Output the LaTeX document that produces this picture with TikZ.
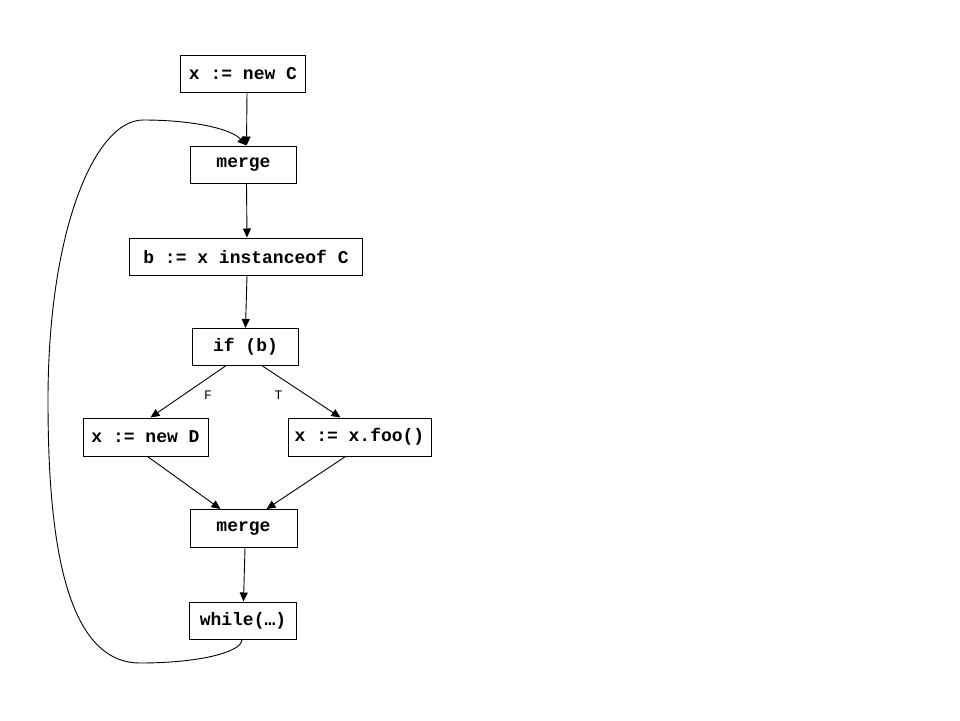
\documentclass[tikz,border=0pt]{standalone}
\usepackage{fontspec}
\setmonofont{Liberation Mono}
\usetikzlibrary{arrows.meta}
\begin{document}
\begin{tikzpicture}[x=1pt,y=-1pt,
    stmt/.style={draw,line width=1pt,minimum height=37pt,inner sep=0pt,font=\fontsize{18}{18}\ttfamily\bfseries},
    flow/.style={line width=0.9pt,-{Triangle[length=9pt,width=8pt]}},
    branch/.style={font=\fontsize{13}{13}\ttfamily}]
    \useasboundingbox (0,0) rectangle (960,720);
    \node[stmt,minimum width=125pt] (newc) at (243,73.5) {x := new C};
    \node[stmt,minimum width=106pt] (merge1) at (243.5,164.5) {merge};
    \node[stmt,minimum width=233pt] (inst) at (246,256.5) {b := x instanceof C};
    \node[stmt,minimum width=106pt] (ifb) at (245.5,347) {if (b)};
    \node[stmt,minimum width=125pt,minimum height=38pt] (newd) at (145.5,437) {x := new D};
    \node[stmt,minimum width=143pt,minimum height=38pt] (foo) at (359.5,437) {x := x.foo()};
    \node[stmt,minimum width=107pt,minimum height=38pt] (merge2) at (243.5,528.5) {merge};
    \node[stmt,minimum width=107pt] (wloop) at (243,620.5) {while(…)};
    \draw[flow] ([xshift=4pt]newc.south) -- ([xshift=3pt]merge1.north);
    \draw[flow] ([xshift=3pt]merge1.south) -- ([xshift=1pt]inst.north);
    \draw[flow] ([xshift=1pt]inst.south) -- ([xshift=0pt]ifb.north);
    \draw[flow] ([xshift=-20pt]ifb.south) -- node[branch,xshift=20pt,yshift=-3pt] {F} ([xshift=5pt]newd.north);
    \draw[flow] ([xshift=17pt]ifb.south) -- node[branch,xshift=-23pt,yshift=-3pt] {T} ([xshift=-19pt]foo.north);
    \draw[flow] ([xshift=2pt]newd.south) -- ([xshift=-23pt]merge2.north);
    \draw[flow] ([xshift=-14pt]foo.south) -- ([xshift=23pt]merge2.north);
    \draw[flow] ([xshift=1.5pt]merge2.south) -- ([xshift=0.5pt]wloop.north);
    % back edge of the loop
    \coordinate (lbot) at (140,663);
    \coordinate (lleft) at (48,400);
    \coordinate (ltop) at (143,120);
    \draw[flow] ([xshift=-1pt]wloop.south) .. controls (242,652) and (200,663) .. (lbot)
        .. controls (60,663) and (48,520) .. (lleft)
        .. controls (48,230) and (95,120) .. (ltop)
        .. controls (190,120) and (230,128) .. ([xshift=3pt]merge1.north);
\end{tikzpicture}
\end{document}
